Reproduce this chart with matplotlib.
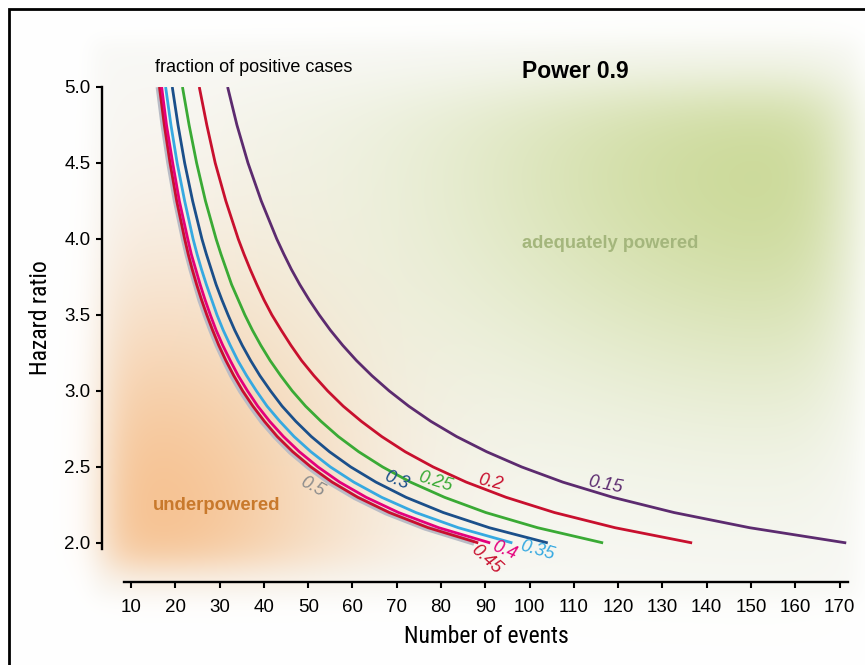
import matplotlib.pyplot as plt
import numpy as np
from matplotlib.patches import Rectangle
from matplotlib import font_manager

plt.rcParams['font.family'] = ['Liberation Sans', 'DejaVu Sans']

# hazard ratio grid and the number of events
hazard_ratio = [2.0, 2.1, 2.2, 2.3, 2.4, 2.5, 2.6, 2.7, 2.8, 2.9, 3.0, 3.1, 3.2, 3.3, 3.4,
                3.5, 3.6, 3.7, 3.8, 3.9, 4.0, 4.25, 4.5, 4.75, 5.0]

events_050 = [87.5, 76.4, 67.6, 60.6, 54.8, 50.1, 46.0, 42.6, 39.6, 37.1, 34.8, 32.8, 31.1, 29.5, 28.1,
              26.8, 25.6, 24.6, 23.6, 22.7, 21.9, 20.1, 18.6, 17.3, 16.2]
events_045 = [88.4, 77.1, 68.3, 61.2, 55.4, 50.6, 46.5, 43.0, 40.1, 37.5, 35.2, 33.2, 31.4, 29.8, 28.4,
              27.1, 25.9, 24.8, 23.8, 22.9, 22.1, 20.3, 18.8, 17.5, 16.4]
events_040 = [91.1, 79.5, 70.4, 63.1, 57.1, 52.2, 48.0, 44.4, 41.3, 38.6, 36.3, 34.2, 32.4, 30.7, 29.2,
              27.9, 26.7, 25.6, 24.6, 23.6, 22.8, 20.9, 19.4, 18.0, 16.9]
events_035 = [96.1, 83.9, 74.3, 66.6, 60.3, 55.0, 50.6, 46.8, 43.6, 40.7, 38.3, 36.1, 34.1, 32.4, 30.8,
              29.4, 28.2, 27.0, 25.9, 24.9, 24.0, 22.1, 20.4, 19.0, 17.8]
events_030 = [104.1, 90.9, 80.5, 72.1, 65.3, 59.6, 54.8, 50.7, 47.2, 44.1, 41.5, 39.1, 37.0, 35.1, 33.4,
              31.9, 30.5, 29.2, 28.1, 27.0, 26.0, 23.9, 22.1, 20.6, 19.3]
events_025 = [116.6, 101.8, 90.1, 80.8, 73.1, 66.8, 61.4, 56.8, 52.9, 49.4, 46.4, 43.8, 41.4, 39.3, 37.4,
              35.7, 34.2, 32.7, 31.5, 30.3, 29.2, 26.8, 24.8, 23.1, 21.6]
events_020 = [136.7, 119.3, 105.6, 94.7, 85.7, 78.2, 71.9, 66.6, 62.0, 57.9, 54.4, 51.3, 48.5, 46.1, 43.9,
              41.8, 40.0, 38.4, 36.9, 35.5, 34.2, 31.4, 29.0, 27.1, 25.4]
events_015 = [171.5, 149.7, 132.6, 118.8, 107.5, 98.2, 90.3, 83.5, 77.7, 72.7, 68.3, 64.4, 60.9, 57.8, 55.0,
              52.5, 50.2, 48.1, 46.2, 44.5, 42.9, 39.4, 36.4, 33.9, 31.8]

fractions = ['0.5', '0.45', '0.4', '0.35', '0.3', '0.25', '0.2', '0.15']
series = [events_050, events_045, events_040, events_035, events_030, events_025, events_020, events_015]

x_ticks = list(range(10, 171, 10))
y_ticks = [2.0, 2.5, 3.0, 3.5, 4.0, 4.5, 5.0]

# styles
line_colors = ['#b9bcc6', '#c8102e', '#e4007c', '#36a9e1', '#1b4f8a', '#3aaa35', '#c8102e', '#5c2b6f']
label_colors = ['#8c8c8c', '#c8102e', '#e4007c', '#36a9e1', '#1b4f8a', '#3aaa35', '#c8102e', '#5c2b6f']
line_widths = [4.2, 2.0, 2.0, 2.0, 2.0, 2.0, 2.0, 2.0]
label_xy = [(50.9, 2.37), (90.1, 1.89), (94.4, 1.95), (101.8, 1.95),
            (69.9, 2.41), (78.6, 2.40), (91.2, 2.40), (117.1, 2.38)]
label_rot = [-28, -42, -22, -16, -22, -17, -13, -11]


# a narrow sans face for the axis titles, if one is installed
def narrow_font(size):
    fonts = font_manager.fontManager.ttflist
    for name in ['Liberation Sans Narrow', 'Roboto Condensed', 'Open Sans Condensed']:
        for f in fonts:
            if f.name == name and f.weight in (400, 'normal', 'regular') and f.style == 'normal':
                return font_manager.FontProperties(fname=f.fname, size=size)
    for name in ['Roboto', 'Noto Sans', 'Open Sans', 'DejaVu Sans']:
        for f in fonts:
            if (f.name == name and f.stretch in ('condensed', 'semi-condensed', 'extra-condensed')
                    and f.weight in (400, 'normal', 'regular') and f.style == 'normal'):
                return font_manager.FontProperties(fname=f.fname, size=size)
    return font_manager.FontProperties(family='Liberation Sans', size=size * 0.88)


W, H = 865, 665
fig = plt.figure(figsize=(W / 100, H / 100), dpi=100)

# soft coloured background (pixel coordinates, y downwards)
X, Y = np.meshgrid(np.arange(W) + 0.5, np.arange(H) + 0.5)


def sig(v):
    return 1 / (1 + np.exp(-v))


def soft_box(x0, x1, y0, y1, w):
    return sig((X - x0) / w) * sig((x1 - X) / w) * sig((Y - y0) / w) * sig((y1 - Y) / w)


img = np.ones((H, W, 3))
panel = soft_box(92, 858, 40, 598, 6)[..., None]
img = img * (1 - panel) + np.array([0.975, 0.975, 0.965]) * panel

w_orange = 0.92 * soft_box(106, 720, 60, 568, 12) * np.exp(-((X - 150) / 200) ** 2 - ((Y - 520) / 235) ** 2)
img = img * (1 - w_orange[..., None]) + np.array([246, 190, 138]) / 255 * w_orange[..., None]

w_green = 0.95 * soft_box(200, 842, 85, 660, 20) * np.exp(-((X - 790) / 360) ** 2 - ((Y - 165) / 235) ** 2)
img = img * (1 - w_green[..., None]) + np.array([201, 216, 148]) / 255 * w_green[..., None]

bg = fig.add_axes([0, 0, 1, 1], zorder=0)
bg.imshow(img, extent=(0, W, H, 0), aspect='auto', interpolation='bilinear')
bg.axis('off')

# frame around the figure (only top and left edges are visible)
fig.patches.append(Rectangle((9 / W, -0.1), 2, (H - 9) / H + 0.1, transform=fig.transFigure,
                             fill=False, lw=2, ec='black', zorder=5))

ax = fig.add_axes([124 / W, (H - 549) / H, 724 / W, 462 / H], zorder=1)
ax.set_facecolor('none')

for ev, c, lw in zip(series, line_colors, line_widths):
    ax.plot(ev, hazard_ratio, color=c, lw=lw, solid_capstyle='butt', solid_joinstyle='round')

for lab, c, (lx, ly), rot in zip(fractions, label_colors, label_xy, label_rot):
    ax.text(lx, ly, lab, color=c, fontsize=13, style='italic', rotation=rot,
            rotation_mode='anchor', ha='center', va='center', clip_on=False)

ax.set_xlim(8.4, 171.9)
ax.set_ylim(1.96, 5.0)
ax.set_xticks(x_ticks)
ax.set_yticks(y_ticks)
ax.set_yticklabels([f'{v:.1f}' for v in y_ticks])

for s in ['top', 'right']:
    ax.spines[s].set_visible(False)
ax.spines['left'].set_position(('outward', 15.8))
ax.spines['bottom'].set_position(('outward', 23.8))
for s in ['left', 'bottom']:
    ax.spines[s].set_linewidth(1.7)
ax.tick_params(axis='both', direction='out', width=1.5, length=4.5, labelsize=13.5)
ax.tick_params(axis='x', pad=8)
ax.tick_params(axis='y', pad=4)

ax.set_xlabel('Number of events', fontproperties=narrow_font(17), labelpad=6)
ax.set_ylabel('Hazard ratio', fontproperties=narrow_font(17), labelpad=9)

fig.text(254 / W, 1 - 68 / H, 'fraction of positive cases', fontsize=13, ha='center', va='center')
fig.text(575 / W, 1 - 71 / H, 'Power 0.9', fontsize=16.5, fontweight='bold', ha='center', va='center')
fig.text(217 / W, 1 - 505 / H, 'underpowered', fontsize=13.3, fontweight='bold', color='#c8792c',
         ha='center', va='center')
fig.text(610 / W, 1 - 244 / H, 'adequately powered', fontsize=13.2, fontweight='bold', color='#a4b67c',
         ha='center', va='center')

fig.savefig('out.png', dpi=100)
